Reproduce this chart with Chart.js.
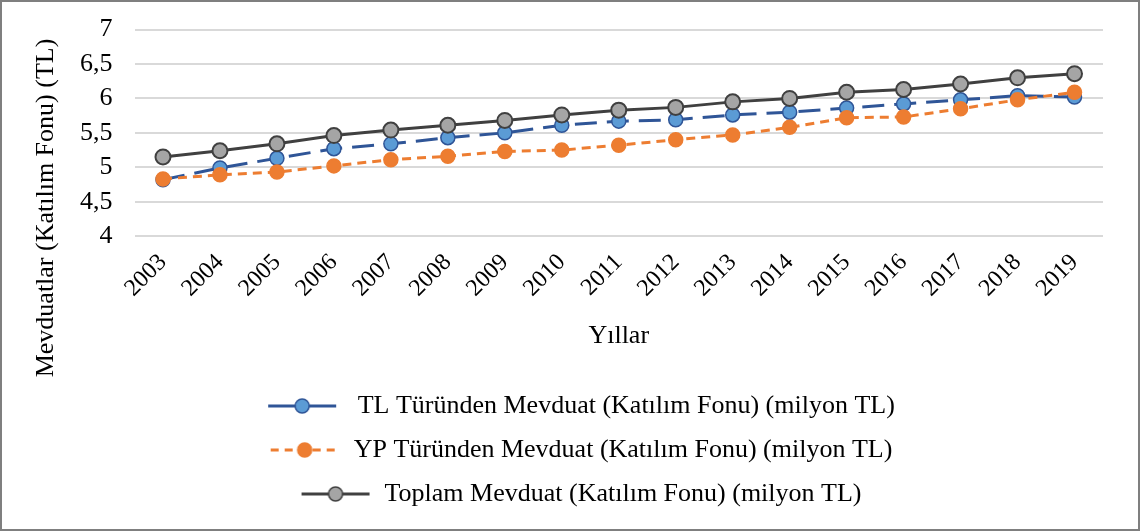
<!DOCTYPE html>
<html>
<head>
<meta charset="utf-8">
<script src="https://cdn.jsdelivr.net/npm/chart.js@4"></script>
<style>
    body { margin: 0; background: #fff; }
    .box { position: relative; width: 1136px; height: 527px; border: 2px solid #7f7f7f; overflow: hidden; }
    .box canvas { display: block; margin-top: -10px; }
</style>
</head>
<body>
<div class="box"><canvas id="chart" width="1136" height="537"></canvas></div>
<script>
const years = ['2003', '2004', '2005', '2006', '2007', '2008', '2009', '2010', '2011',
    '2012', '2013', '2014', '2015', '2016', '2017', '2018', '2019'];

const tlValues = [4.82, 4.99, 5.13, 5.27, 5.34, 5.43, 5.50, 5.61, 5.67,
    5.69, 5.76, 5.80, 5.86, 5.92, 5.98, 6.04, 6.02];
const ypValues = [4.83, 4.89, 4.93, 5.02, 5.11, 5.16, 5.23, 5.25, 5.32,
    5.40, 5.47, 5.58, 5.72, 5.73, 5.85, 5.98, 6.09];
const totalValues = [5.15, 5.24, 5.34, 5.46, 5.54, 5.61, 5.68, 5.76, 5.83,
    5.87, 5.95, 6.00, 6.09, 6.13, 6.21, 6.30, 6.36];

const yTicks = [4, 4.5, 5, 5.5, 6, 6.5, 7];

const seriesNames = [
    ' TL Türünden Mevduat (Katılım Fonu) (milyon TL)',
    'YP Türünden Mevduat (Katılım Fonu) (milyon TL)',
    'Toplam Mevduat (Katılım Fonu) (milyon TL)'
];
const yTitle = 'Mevduatlar (Katılım Fonu) (TL)';
const xTitle = 'Yıllar';

const font = '"Liberation Serif", "Times New Roman", serif';
const fontSize = 26;

// little line+marker picture for the legend
function legendSample(line, dash, fill, stroke, r) {
    const c = document.createElement('canvas');
    c.width = 72;
    c.height = 22;
    const ctx = c.getContext('2d');
    ctx.strokeStyle = line;
    ctx.lineWidth = 3;
    ctx.setLineDash(dash);
    ctx.beginPath();
    ctx.moveTo(2, 11);
    ctx.lineTo(70, 11);
    ctx.stroke();
    ctx.setLineDash([]);
    ctx.beginPath();
    ctx.arc(36, 11, r, 0, Math.PI * 2);
    ctx.fillStyle = fill;
    ctx.fill();
    ctx.lineWidth = 1.5;
    ctx.strokeStyle = stroke;
    ctx.stroke();
    return c;
}

const samples = [
    legendSample('#2f5597', [], '#5b9bd5', '#2f5597', 7),
    legendSample('#ed7d31', [8, 6], '#ed7d31', '#ed7d31', 7),
    legendSample('#404040', [], '#a5a5a5', '#404040', 7)
];

// axis title drawn by hand so it can sit lower than the plot centre
const yTitlePlugin = {
    id: 'yTitle',
    afterDraw(chart) {
        const ctx = chart.ctx;
        ctx.save();
        ctx.translate(44, 216);
        ctx.rotate(-Math.PI / 2);
        ctx.font = fontSize + 'px ' + font;
        ctx.fillStyle = '#000';
        ctx.textAlign = 'center';
        ctx.textBaseline = 'middle';
        ctx.fillText(yTitle, 0, 0);
        ctx.restore();
    }
};

new Chart(document.getElementById('chart'), {
    type: 'line',
    data: {
        labels: years,
        datasets: [
            {
                label: seriesNames[0],
                data: tlValues,
                borderColor: '#2f5597',
                borderWidth: 3,
                borderDash: [22, 10],
                pointBackgroundColor: '#5b9bd5',
                pointBorderColor: '#2f5597',
                pointBorderWidth: 1.5,
                pointRadius: 7,
                order: 3
            },
            {
                label: seriesNames[1],
                data: ypValues,
                borderColor: '#ed7d31',
                borderWidth: 3,
                borderDash: [9, 6],
                pointBackgroundColor: '#ed7d31',
                pointBorderColor: '#ed7d31',
                pointBorderWidth: 1.5,
                pointRadius: 7,
                order: 2
            },
            {
                label: seriesNames[2],
                data: totalValues,
                borderColor: '#404040',
                borderWidth: 3,
                pointBackgroundColor: '#a5a5a5',
                pointBorderColor: '#404040',
                pointBorderWidth: 2,
                pointRadius: 7.5,
                order: 1
            }
        ]
    },
    options: {
        responsive: false,
        animation: false,
        layout: { padding: { left: 56, right: 35, top: 2, bottom: 12 } },
        scales: {
            x: {
                offset: true,
                grid: { display: false },
                border: { display: false },
                ticks: {
                    color: '#000',
                    font: { family: font, size: 24, lineHeight: 1 },
                    maxRotation: 45,
                    minRotation: 45,
                    autoSkip: false,
                    padding: 6
                },
                title: {
                    display: true,
                    text: xTitle,
                    color: '#000',
                    font: { family: font, size: fontSize, lineHeight: 1 },
                    padding: { top: 16, bottom: 26 }
                }
            },
            y: {
                min: 4,
                max: 7,
                afterBuildTicks(axis) {
                    axis.ticks = yTicks.map(v => ({ value: v }));
                },
                grid: { color: '#d9d9d9', lineWidth: 2, drawTicks: false },
                border: { display: false },
                ticks: {
                    color: '#000',
                    font: { family: font, size: fontSize },
                    autoSkip: false,
                    padding: 22,
                    callback: v => String(v).replace('.', ',')
                }
            }
        },
        plugins: {
            legend: {
                position: 'bottom',
                labels: {
                    color: '#000',
                    font: { family: font, size: fontSize },
                    usePointStyle: true,
                    pointStyleWidth: 72,
                    padding: 18,
                    generateLabels(chart) {
                        return chart.data.datasets.map((ds, i) => ({
                            text: ds.label,
                            pointStyle: samples[i],
                            fillStyle: 'transparent',
                            strokeStyle: 'transparent',
                            lineWidth: 0,
                            fontColor: '#000',
                            datasetIndex: i,
                            hidden: false
                        }));
                    }
                }
            },
            tooltip: { enabled: false }
        }
    },
    plugins: [yTitlePlugin]
});
</script>
</body>
</html>
